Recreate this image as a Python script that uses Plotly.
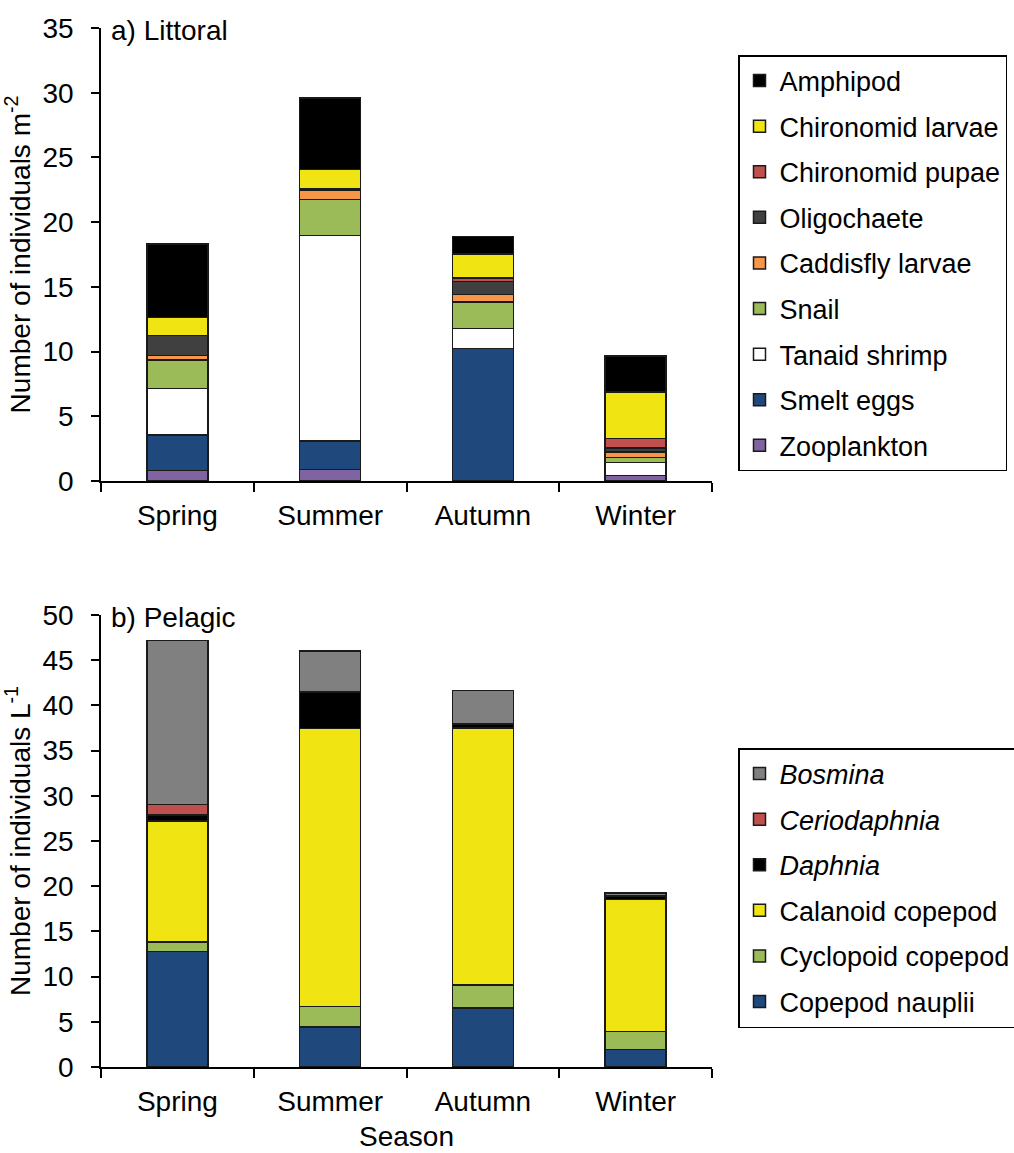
import plotly.graph_objects as go

seasons = ["Spring", "Summer", "Autumn", "Winter"]

# a) Littoral (individuals per m^2), stacked bottom -> top
littoral_names = ["Zooplankton", "Smelt eggs", "Tanaid shrimp", "Snail", "Caddisfly larvae",
                  "Oligochaete", "Chironomid pupae", "Chironomid larvae", "Amphipod"]
zooplankton = [0.8, 0.9, 0.0, 0.44]
smelt_eggs = [2.75, 2.2, 10.22, 0.0]
tanaid_shrimp = [3.6, 15.85, 1.58, 1.0]
snail = [2.2, 2.8, 2.03, 0.38]
caddisfly_larvae = [0.35, 0.75, 0.57, 0.44]
oligochaete = [1.55, 0.0, 1.03, 0.28]
chironomid_pupae = [0.0, 0.1, 0.26, 0.75]
chironomid_larvae = [1.4, 1.45, 1.83, 3.58]
amphipod = [5.65, 5.55, 1.38, 2.78]
littoral_values = [zooplankton, smelt_eggs, tanaid_shrimp, snail, caddisfly_larvae,
                   oligochaete, chironomid_pupae, chironomid_larvae, amphipod]
littoral_colors = ["#8064A2", "#1F497D", "#FFFFFF", "#9BBB59", "#F79646",
                   "#404040", "#C0504D", "#F0E512", "#000000"]

# b) Pelagic (individuals per L), stacked bottom -> top
pelagic_names = ["Copepod nauplii", "Cyclopoid copepod", "Calanoid copepod",
                 "<i>Daphnia</i>", "<i>Ceriodaphnia</i>", "<i>Bosmina</i>"]
copepod_nauplii = [12.75, 4.41, 6.5, 1.92]
cyclopoid_copepod = [1.07, 2.28, 2.58, 2.02]
calanoid_copepod = [13.38, 30.73, 28.41, 14.58]
daphnia = [0.66, 4.04, 0.44, 0.38]
ceriodaphnia = [1.18, 0.0, 0.0, 0.0]
bosmina = [18.16, 4.54, 3.71, 0.33]
pelagic_values = [copepod_nauplii, cyclopoid_copepod, calanoid_copepod,
                  daphnia, ceriodaphnia, bosmina]
pelagic_colors = ["#1F497D", "#9BBB59", "#F0E512", "#000000", "#C0504D", "#808080"]

FONT = "Liberation Sans, Arial, sans-serif"
FS = 28
LFS = 27
W, H = 1014, 1153
ML, MR, MT, MB = 101, 302, 28, 86
PH = H - MT - MB

fig = go.Figure()
for i, (name, vals, col) in enumerate(zip(littoral_names, littoral_values, littoral_colors)):
    fig.add_trace(go.Bar(x=seasons, y=vals, name=name, marker_color=col,
                         marker_line=dict(color="#1a1a1a", width=1.5),
                         xaxis="x", yaxis="y", legend="legend", legendgroup=name,
                         legendrank=100 - i, width=0.4))
for i, (name, vals, col) in enumerate(zip(pelagic_names, pelagic_values, pelagic_colors)):
    fig.add_trace(go.Bar(x=seasons, y=vals, name=name, marker_color=col,
                         marker_line=dict(color="#1a1a1a", width=1.5),
                         xaxis="x2", yaxis="y2", legend="legend2", legendgroup="p" + name,
                         legendrank=100 - i, width=0.4))

ydom1 = [(H - MB - 481) / PH, 1.0]
ydom2 = [0.0, (H - MB - 615) / PH]

axis_common = dict(showline=True, linecolor="black", linewidth=1.5, ticks="outside",
                   tickcolor="black", tickwidth=1.5, showgrid=False, zeroline=False,
                   automargin=False,
                   tickfont=dict(family=FONT, size=FS, color="black"))

legend_common = dict(xref="container", yref="container", xanchor="left", yanchor="top",
                     bordercolor="black", borderwidth=1.5, bgcolor="white",
                     traceorder="grouped", tracegroupgap=7.5,
                     font=dict(family=FONT, size=LFS, color="black"))

fig.update_layout(
    width=W, height=H, barmode="stack",
    plot_bgcolor="white", paper_bgcolor="white",
    margin=dict(l=ML, r=MR, t=MT, b=MB, autoexpand=False),
    font=dict(family=FONT, size=FS, color="black"),
    xaxis=dict(domain=[0, 1], anchor="y", range=[-0.5, 3.5], tickson="boundaries", ticklen=9,
               ticklabelstandoff=9, **axis_common),
    yaxis=dict(domain=ydom1, anchor="x", range=[0, 35], dtick=5, ticklen=8,
               ticklabelstandoff=12,
               title=dict(text="Number of individuals m<sup>-2</sup>", standoff=6,
                          font=dict(family=FONT, size=FS, color="black")),
               **axis_common),
    xaxis2=dict(domain=[0, 1], anchor="y2", range=[-0.5, 3.5], tickson="boundaries", ticklen=9,
                ticklabelstandoff=9,
                title=dict(text="Season", standoff=10, font=dict(family=FONT, size=FS, color="black")),
                **axis_common),
    yaxis2=dict(domain=ydom2, anchor="x2", range=[0, 50], dtick=5, ticklen=8,
                ticklabelstandoff=12,
                title=dict(text="Number of individuals L<sup>-1</sup>", standoff=6,
                           font=dict(family=FONT, size=FS, color="black")),
                **axis_common),
    legend=dict(x=738 / W, y=1 - 55 / H, **legend_common),
    legend2=dict(x=738 / W, y=1 - 748 / H, **legend_common),
    annotations=[
        dict(text="a) Littoral", xref="paper", yref="y domain", x=0, y=1,
             xanchor="left", yanchor="middle", xshift=8, yshift=-2, showarrow=False,
             font=dict(family=FONT, size=FS, color="black")),
        dict(text="b) Pelagic", xref="paper", yref="y2 domain", x=0, y=1,
             xanchor="left", yanchor="middle", xshift=8, yshift=-2, showarrow=False,
             font=dict(family=FONT, size=FS, color="black")),
    ],
)

fig.write_html("out.html", config={"displayModeBar": False},
               post_script="document.body.style.margin='0';")
